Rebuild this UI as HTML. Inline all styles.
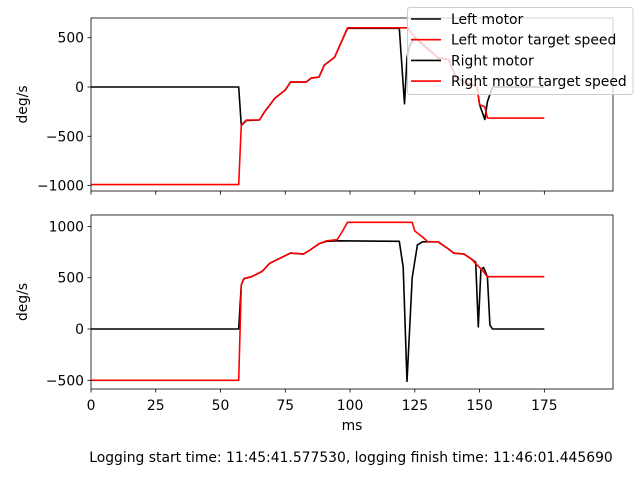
<!DOCTYPE html>
<html><head><meta charset="utf-8"><style>
body{margin:0;background:#fff}
svg{display:block;font-family:"DejaVu Sans","Liberation Sans",sans-serif}
</style></head><body>
<svg id="c" width="640" height="480" xmlns="http://www.w3.org/2000/svg"></svg>
<script>
const xTicks=[0,25,50,75,100,125,150,175];
const topYTicks=[500,0,-500,-1000];
const botYTicks=[1000,500,0,-500];
const leftTargetT=[0,57,58,60,65,67,71,75,77,83,85,88,90,94,99,122,125,134,138,141,149,150,152,153,175];
const leftTargetV=[-990,-990,-385,-335,-335,-250,-115,-30,50,50,90,100,220,300,600,600,510,295,280,90,0,-180,-200,-315,-315];
const leftMotorT=[0,57,58,60,65,67,71,75,77,83,85,88,90,94,99,119,121,122,123,125,134,138,141,149,150,152,153,155,175];
const leftMotorV=[0,0,-390,-340,-335,-250,-115,-30,50,50,90,100,220,300,595,595,-170,300,420,500,295,280,90,0,-180,-330,-150,0,0];
const rightTargetT=[0,57,58,59,62,66,69,73,77,82,84,88,91,95,97,99,124,125,128,130,134,138,140,144,147,148,151,153,175];
const rightTargetV=[-500,-500,430,490,510,560,640,690,740,730,760,830,860,870,950,1040,1040,955,897,850,850,780,740,730,680,650,575,510,510];
const rightMotorT=[0,57,58,59,62,66,69,73,77,82,84,88,91,95,119,120.5,122,124,126,128,130,134,138,140,144,147,148.5,149.5,150.5,151.5,153,154,155,175];
const rightMotorV=[0,0,430,490,510,560,640,690,740,730,760,830,855,860,855,600,-510,500,820,850,850,850,780,740,730,680,650,20,575,600,510,40,0,0];

const NS="http://www.w3.org/2000/svg";
const svg=document.getElementById('c');
const X0=91,X1=613,XMIN=0,XMAX=201.5;
const FS=13.9;
function sx(t){return X0+(t-XMIN)/(XMAX-XMIN)*(X1-X0);}
function mk(tag,attrs,parent){const e=document.createElementNS(NS,tag);for(const k in attrs)e.setAttribute(k,attrs[k]);(parent||svg).appendChild(e);return e;}
function fmt(v){return v<0?'\u2212'+(-v):''+v;}
function panel(name,top,bot,ymin,ymax,yTicks,showX,series){
  const sy=v=>bot-(v-ymin)/(ymax-ymin)*(bot-top);
  const g=mk('g',{});
  
  
  series.forEach(s=>{
    const d=s.t.map((t,i)=>(i?'L':'M')+sx(t).toFixed(1)+' '+sy(s.v[i]).toFixed(1)).join(' ');
    const p=mk('path',{d:d,fill:'none',stroke:s.c,'stroke-width':1.6,'stroke-linejoin':'round'},g);
    
    
  });
  const r=mk('rect',{x:X0,y:top,width:X1-X0,height:bot-top,fill:'none',stroke:'#000','stroke-width':0.8},g);
  
  
  yTicks.forEach(v=>{
    const y=sy(v);
    mk('line',{x1:X0-3.5,x2:X0,y1:y,y2:y,stroke:'#000','stroke-width':0.8},g);
    const tx=mk('text',{x:X0-7,y:y+5,'text-anchor':'end','font-size':FS},g);
    tx.textContent=fmt(v);
    
    
  });
  xTicks.forEach(v=>{
    const x=sx(v);
    mk('line',{x1:x,x2:x,y1:bot,y2:bot+3.5,stroke:'#000','stroke-width':0.8},g);
    if(showX){
      const tx=mk('text',{x:x,y:bot+21,'text-anchor':'middle','font-size':FS},g);
      tx.textContent=v;
      
      
    }
  });
  const yl=mk('text',{x:0,y:0,transform:'translate(27,'+((top+bot)/2)+') rotate(-90)','text-anchor':'middle','font-size':FS},g);
  yl.textContent='deg/s';
  
  
}
panel('left-motor-panel',18,191,(87-191)/0.0986,(87-18)/0.0986,topYTicks,false,[
  {t:leftMotorT,v:leftMotorV,c:'#000',n:'left-motor-line'},
  {t:leftTargetT,v:leftTargetV,c:'#f00',n:'left-target-line'}]);
panel('right-motor-panel',215,389,(329-389)/0.1026,(329-215)/0.1026,botYTicks,true,[
  {t:rightMotorT,v:rightMotorV,c:'#000',n:'right-motor-line'},
  {t:rightTargetT,v:rightTargetV,c:'#f00',n:'right-target-line'}]);

const xl=mk('text',{x:352,y:430,'text-anchor':'middle','font-size':FS});
xl.textContent='ms';


const ft=mk('text',{x:351,y:462,'text-anchor':'middle','font-size':FS});
ft.textContent='Logging start time: 11:45:41.577530, logging finish time: 11:46:01.445690';



const lg=mk('g',{});


mk('rect',{x:407.5,y:7.5,width:225.5,height:87,rx:2.5,fill:'#fff','fill-opacity':0.8,stroke:'#ccc','stroke-width':1},lg);
const entries=['Left motor','Left motor target speed','Right motor','Right motor target speed'];
const cols=['#000','#f00','#000','#f00'];
entries.forEach((s,i)=>{
  const y=19+i*20.7;
  const eg=mk('g',{},lg);
  
  
  mk('line',{x1:411,x2:441,y1:y,y2:y,stroke:cols[i],'stroke-width':1.6},eg);
  const t=mk('text',{x:451,y:y+5,'font-size':FS},eg);
  t.textContent=s;
});
</script>
</body></html>
